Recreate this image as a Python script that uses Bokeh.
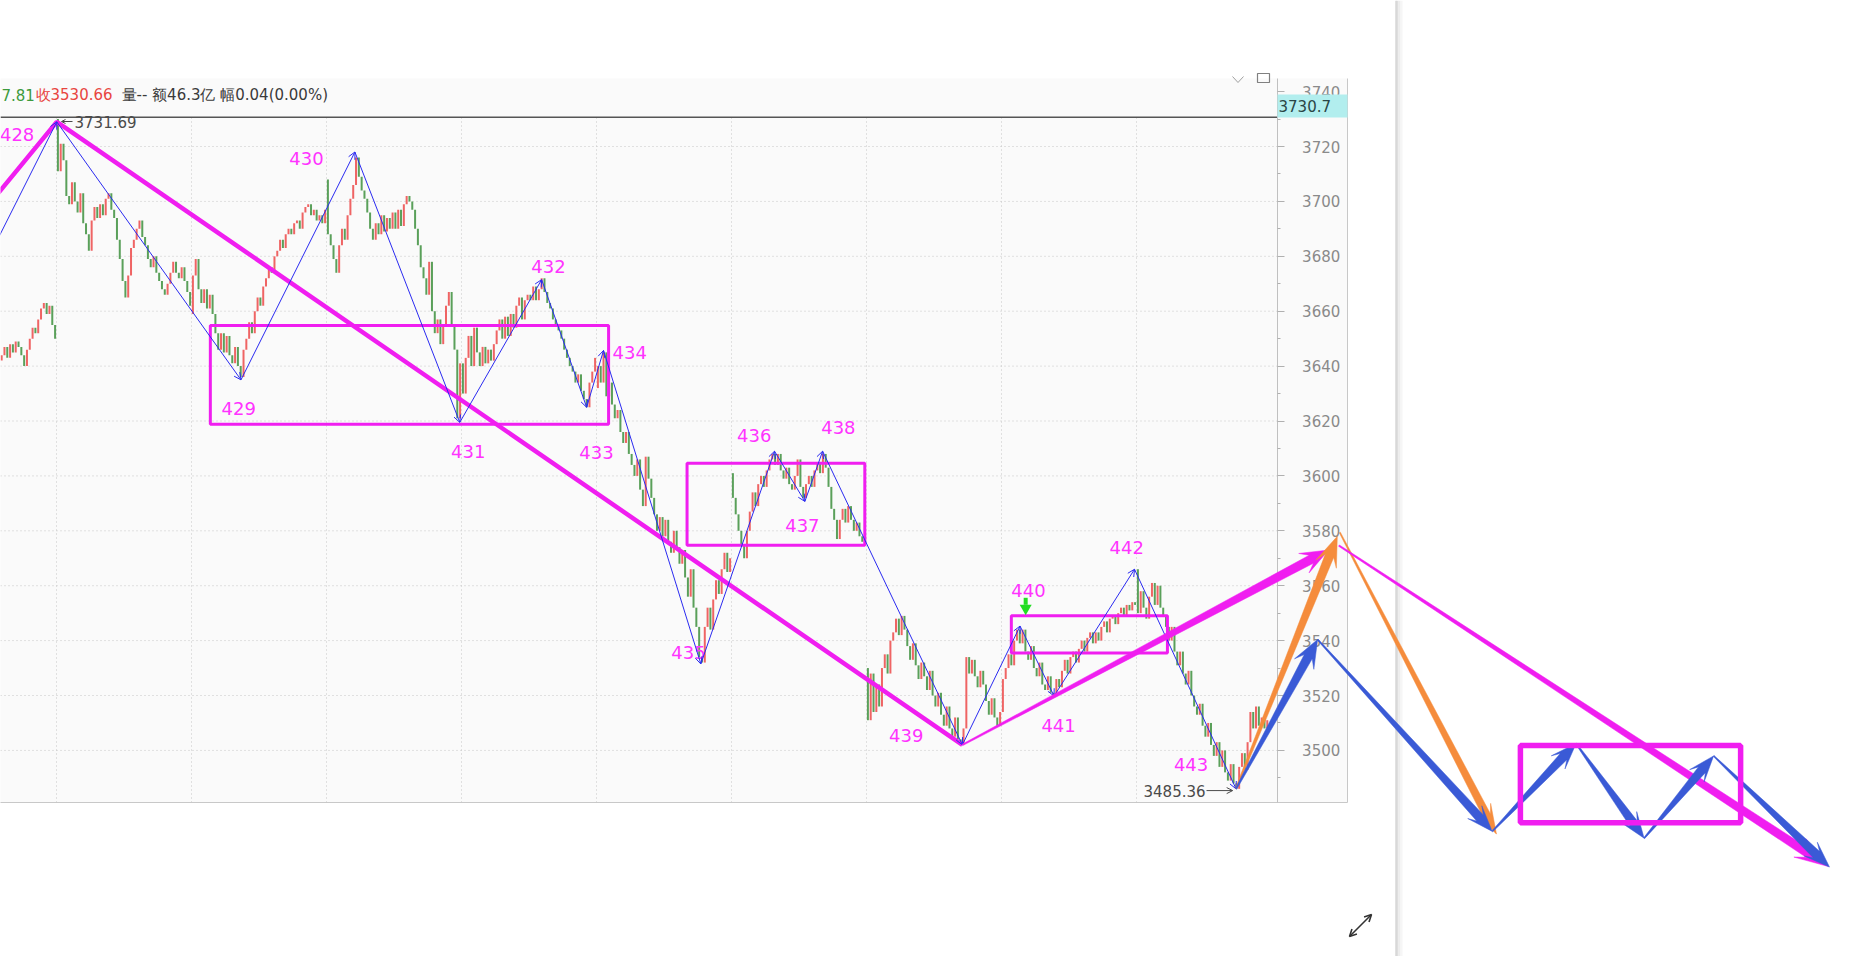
import math
from bokeh.plotting import figure
from bokeh.models import (Range1d, LinearAxis, FixedTicker, ColumnDataSource, Arrow,
                          OpenHead, BoxAnnotation, Label)
from bokeh.core.properties import value
from bokeh.embed import file_html
from bokeh.resources import INLINE

# ------------------------------------------------------------------ data
# bars: one list of closes per trading day (48 bars per day), opens of each day
day_start = [28, 48, 96, 144, 192, 240, 288, 336, 384, 432]
day_open = [3642, 3730, 3659, 3708, 3641, 3632, 3601, 3530, 3514, 3566]
day0 = [3644, 3647, 3643, 3648, 3645, 3649, 3647, 3644, 3640, 3646, 3650, 3654, 3652, 3657,
        3661, 3663, 3659, 3662, 3655, 3650]
day1 = [3711, 3721, 3715, 3702, 3699, 3707, 3700, 3696, 3703, 3692, 3688, 3682, 3693, 3698,
        3694, 3699, 3695, 3701, 3703, 3697, 3694, 3686, 3679, 3671, 3665, 3673, 3683, 3686,
        3690, 3693, 3687, 3684, 3679, 3676, 3680, 3674, 3671, 3668, 3666, 3670, 3674, 3678,
        3674, 3672, 3676, 3671, 3667, 3662]
day2 = [3673, 3679, 3668, 3663, 3668, 3661, 3666, 3659, 3652, 3646, 3652, 3645, 3651, 3644,
        3641, 3647, 3640, 3636, 3646, 3650, 3656, 3652, 3660, 3665, 3662, 3669, 3672, 3676,
        3674, 3680, 3682, 3686, 3683, 3688, 3690, 3688, 3692, 3693, 3690, 3696, 3698, 3699,
        3695, 3697, 3693, 3695, 3692, 3697]
day3 = [3688, 3684, 3679, 3674, 3684, 3690, 3686, 3695, 3701, 3706, 3716, 3709, 3704, 3701,
        3696, 3690, 3686, 3692, 3688, 3695, 3689, 3694, 3690, 3696, 3690, 3697, 3691, 3699,
        3702, 3700, 3697, 3690, 3684, 3676, 3672, 3666, 3678, 3660, 3652, 3657, 3648, 3655,
        3662, 3667, 3655, 3646, 3621, 3641]
day4 = [3630, 3643, 3651, 3640, 3654, 3645, 3640, 3647, 3641, 3646, 3642, 3648, 3653, 3657,
        3650, 3658, 3651, 3659, 3654, 3662, 3665, 3657, 3664, 3666, 3664, 3669, 3664, 3668,
        3672, 3667, 3663, 3661, 3657, 3655, 3653, 3650, 3646, 3643, 3640, 3638, 3634, 3637,
        3631, 3628, 3625, 3634, 3638, 3643]
day5 = [3640, 3634, 3645, 3629, 3634, 3626, 3621, 3624, 3616, 3612, 3616, 3608, 3604, 3600,
        3606, 3595, 3589, 3607, 3599, 3592, 3586, 3580, 3585, 3578, 3584, 3576, 3572, 3580,
        3574, 3568, 3573, 3563, 3556, 3566, 3552, 3545, 3534, 3532, 3545, 3552, 3544, 3555,
        3562, 3557, 3566, 3572, 3565, 3570]
day6 = [3592, 3586, 3580, 3575, 3570, 3580, 3587, 3594, 3589, 3597, 3600, 3596, 3602, 3606,
        3608, 3604, 3608, 3602, 3599, 3603, 3597, 3595, 3600, 3606, 3596, 3592, 3597, 3600,
        3596, 3602, 3605, 3601, 3608, 3603, 3596, 3588, 3584, 3577, 3584, 3588, 3583, 3589,
        3584, 3580, 3583, 3578, 3576, 3578]
day7 = [3511, 3528, 3514, 3524, 3516, 3530, 3535, 3528, 3540, 3543, 3548, 3542, 3549, 3544,
        3538, 3533, 3539, 3531, 3526, 3532, 3527, 3522, 3529, 3520, 3516, 3521, 3513, 3509,
        3516, 3508, 3505, 3512, 3504, 3502, 3508, 3534, 3528, 3533, 3527, 3523, 3529, 3524,
        3518, 3513, 3519, 3512, 3509, 3514]
day8 = [3526, 3530, 3535, 3531, 3540, 3544, 3539, 3544, 3536, 3533, 3538, 3530, 3527, 3532,
        3524, 3522, 3527, 3521, 3520, 3526, 3523, 3529, 3533, 3528, 3534, 3536, 3532, 3537,
        3540, 3536, 3541, 3543, 3539, 3543, 3540, 3545, 3547, 3543, 3548, 3549, 3546, 3550,
        3552, 3549, 3553, 3551, 3554, 3553]
day9 = [3550, 3558, 3552, 3548, 3556, 3561, 3553, 3560, 3552, 3549, 3545, 3540, 3545, 3536,
        3531, 3536, 3528, 3524, 3529, 3520, 3516, 3513, 3517, 3509, 3505, 3510, 3502, 3498,
        3503, 3494, 3500, 3492, 3489, 3495, 3488, 3486, 3494, 3499, 3493, 3503, 3514, 3508,
        3516, 3509, 3512, 3508, 3511]
days = [day0, day1, day2, day3, day4, day5, day6, day7, day8, day9]

# wave zigzag (bar index, price) and wave numbers
zz_i = [26, 47.6, 113.1, 153.6, 190.9, 220.0, 236.0, 242.0, 276.6, 302.8, 313.6, 319.9,
        369.6, 390.1, 402.2, 430.8, 466.9]
zz_v = [3685, 3729, 3635, 3718, 3619.5, 3671.5, 3625, 3645.7, 3531.5, 3609, 3590.7, 3609,
        3502, 3545.3, 3519.8, 3566, 3486]
lbl_text = ["428", "429", "430", "431", "432", "433", "434", "435", "436", "437", "438",
            "439", "440", "441", "442", "443"]
lbl_i = [33.5, 112.3, 136.4, 193.9, 222.4, 239.5, 251.3, 272.2, 295.6, 312.7, 325.5,
         349.6, 393.1, 403.8, 428.0, 450.9]
lbl_v = [3724.4, 3624.6, 3715.6, 3608.9, 3676.3, 3608.5, 3644.8, 3535.8, 3614.7, 3581.9,
         3617.8, 3505.4, 3558.3, 3509.1, 3573.9, 3494.7]

# big trend line and consolidation boxes
mag_i = [26, 47.6, 369.6]
mag_v = [3702, 3729, 3502]
box_left = [102.2, 271.7, 387.0]
box_right = [243.8, 334.9, 442.5]
box_top = [3654.8, 3604.6, 3549.1]
box_bottom = [3618.8, 3574.7, 3535.5]

# projected (hand drawn) arrows
mag_up = [(369.6, 3502.0), (499.8, 3573.0)]
org_up = [(466.9, 3486.0), (502.9, 3578.0)]
blu_up = [(466.9, 3486.0), (495.9, 3540.4)]
org_down = [(503.8, 3579.4), (559.5, 3469.5)]
mag_down = [(503.5, 3574.6), (677.5, 3457.7)]
blu_path_i = [495.9, 558.0, 587.8, 612.0, 636.7, 677.9]
blu_path_v = [3540.4, 3470.5, 3502.5, 3468.0, 3498.0, 3457.5]
proj_box = dict(left=568.0, right=646.3, top=3501.8, bottom=3473.6)

hline_v = 3730.7
peak_i, peak_text = 47.6, "3731.69"
low_i, low_v, low_text = 466.0, 3485.36, "3485.36"
green_mark = (392.1, 3552.5)
header = [("7.81", "#3d9a3d"), ("收3530.66", "#e8453f"), ("量-- 额46.3亿 幅0.04(0.00%)", "#3a3a3a")]
y_major = [3500, 3520, 3540, 3560, 3580, 3600, 3620, 3640, 3660, 3680, 3700, 3720, 3740]
y_minor = [3490, 3510, 3530, 3550, 3570, 3590, 3610, 3630, 3650, 3670, 3690, 3710, 3730]
day_breaks = [47.5, 95.5, 143.5, 191.5, 239.5, 287.5, 335.5, 383.5, 431.5]
axis_at = 481.5

# ------------------------------------------------------------------ layout
W, H = 1861, 956
PXB, PXV = 2.8125, 2.745          # pixels per bar, pixels per index point
X0 = 27.591
X1 = X0 + W / PXB
Y1 = 3773.19
Y0 = Y1 - H / PXV
SX = W / (X1 - X0)
SY = H / (Y1 - Y0)


def to_px(i, v):
    return (i - X0) * SX, (Y1 - v) * SY


def from_px(x, y):
    return X0 + x / SX, Y1 - y / SY


CH_TOP, CH_BOT, CH_RIGHT, SEP = 78, 802, 1347, 1395
v_top_chart = from_px(0, CH_TOP)[1]
v_bot_chart = from_px(0, CH_BOT)[1]
i_chart_right = from_px(CH_RIGHT, 0)[0]

BLUE = "#2a2af0"
MAG = "#f01ef0"
BLUE2 = "#3a5ad6"
ORANGE = "#f58c3c"

p = figure(width=W, height=H, x_range=Range1d(X0, X1), y_range=Range1d(Y0, Y1),
           output_backend="svg", toolbar_location=None, min_border=0,
           x_axis_type=None, y_axis_type=None)
p.outline_line_color = None
p.background_fill_color = "white"
p.border_fill_color = "white"

# chart background and borders
p.quad(left=X0 - 5, right=i_chart_right, top=v_top_chart, bottom=v_bot_chart,
       fill_color="#fafafa", line_color=None)
p.segment(x0=[X0 - 5, i_chart_right], y0=[v_bot_chart, v_bot_chart],
          x1=[i_chart_right, i_chart_right], y1=[v_bot_chart, v_top_chart],
          line_color="#c8c8c8", line_width=1)

# separator with shadow
for (a, b, c) in [(SEP, SEP + 1.2, "#c4c4c4"), (SEP + 1.2, SEP + 3, "#dedede"),
                  (SEP + 3, SEP + 5, "#ececec"), (SEP + 5, SEP + 7, "#f6f6f6")]:
    p.quad(left=from_px(a, 0)[0], right=from_px(b, 0)[0], top=Y1, bottom=Y0,
           fill_color=c, line_color=None)

# grid lines
p.segment(x0=[X0] * 12, x1=[axis_at] * 12, y0=y_major[:12], y1=y_major[:12],
          line_color="#c6c6c6", line_width=1, line_dash="1 3")
p.segment(x0=day_breaks, x1=day_breaks, y0=[v_bot_chart] * len(day_breaks),
          y1=[hline_v] * len(day_breaks), line_color="#c6c6c6", line_width=1, line_dash="1 3")

# header texts
hx, hy = [1, 35, 121], from_px(0, 94)[1]
for (t, c), x in zip(header, hx):
    p.text(x=[from_px(x, 0)[0]], y=[hy], text=[t], text_color=c,
           text_font=value("DejaVu Sans"), text_font_size="15px",
           text_align="left", text_baseline="middle")

# horizontal price line
p.segment(x0=[X0], x1=[axis_at], y0=[hline_v], y1=[hline_v], line_color="#555555", line_width=1.5)

# bars
bx, bo, bc, bcol = [], [], [], []
for s, o, closes in zip(day_start, day_open, days):
    for k, c in enumerate(closes):
        bx.append(s + k)
        bo.append(o)
        bc.append(c)
        bcol.append("#ef6464" if c > o else "#5aa05a")
        o = c
p.segment(x0="x", y0="o", x1="x", y1="c", line_color="col", line_width=2,
          source=ColumnDataSource(dict(x=bx, o=bo, c=bc, col=bcol)))

# trend line & boxes
p.line(mag_i, mag_v, line_color=MAG, line_width=4.5)
p.quad(left=box_left, right=box_right, top=box_top, bottom=box_bottom,
       fill_color=None, line_color=MAG, line_width=3)

# zigzag with open heads
zz_src = ColumnDataSource(dict(x0=zz_i[:-1], y0=zz_v[:-1], x1=zz_i[1:], y1=zz_v[1:]))
p.add_layout(Arrow(source=zz_src, x_start="x0", y_start="y0", x_end="x1", y_end="y1",
                   line_color=BLUE, line_width=1,
                   end=OpenHead(size=7, line_color=BLUE, line_width=1)))

# wave numbers
p.text(x=lbl_i, y=lbl_v, text=lbl_text, text_color="#ff33ff",
       text_font=value("DejaVu Sans"), text_font_size="18px",
       text_align="center", text_baseline="middle")

# peak / low annotations
ty = from_px(0, 121)[1]
p.text(x=[from_px(74, 0)[0]], y=[ty], text=[peak_text], text_color="#4a4a4a",
       text_font=value("DejaVu Sans"), text_font_size="15px", text_align="left", text_baseline="middle")
p.add_layout(Arrow(x_start=from_px(72, 0)[0], y_start=ty, x_end=from_px(61, 0)[0], y_end=ty,
                   line_color="#4a4a4a", line_width=1,
                   end=OpenHead(size=4, line_color="#4a4a4a", line_width=1)))
lx_px, ly_px = to_px(low_i, low_v)
p.text(x=[from_px(lx_px - 28, 0)[0]], y=[low_v], text=[low_text], text_color="#4a4a4a",
       text_font=value("DejaVu Sans"), text_font_size="15px", text_align="right", text_baseline="middle")
p.add_layout(Arrow(x_start=from_px(lx_px - 27, 0)[0], y_start=low_v, x_end=low_i - 0.3, y_end=low_v,
                   line_color="#4a4a4a", line_width=1,
                   end=OpenHead(size=6, line_color="#4a4a4a", line_width=1)))

# green signal arrow
gx, gy = to_px(*green_mark)
p.rect(x=[from_px(gx, 0)[0]], y=[from_px(0, gy - 5)[1]], width=4, height=7,
       width_units="screen", height_units="screen", fill_color="#22dd22", line_color=None)
p.scatter(x=[green_mark[0]], y=[from_px(0, gy + 2)[1]], marker="inverted_triangle", size=12,
          fill_color="#22dd22", line_color=None)


# tapered arrows
def taper(a, b, w0, w1, hw, hl):
    x0, y0 = to_px(*a)
    x1, y1 = to_px(*b)
    dx, dy = x1 - x0, y1 - y0
    L = math.hypot(dx, dy)
    ux, uy = dx / L, dy / L
    nx, ny = -uy, ux

    def pt(d, off):
        return from_px(x0 + ux * d + nx * off, y0 + uy * d + ny * off)

    neck, base = L - 0.7 * hl, L - hl
    pts = [pt(0, w0 / 2), pt(neck, w1 / 2), pt(base, hw / 2), pt(L, 0),
           pt(base, -hw / 2), pt(neck, -w1 / 2), pt(0, -w0 / 2)]
    return [q[0] for q in pts], [q[1] for q in pts]


shapes = []
shapes.append((taper(*mag_up, 1.5, 9, 22, 28), MAG))
shapes.append((taper(*org_down, 1.2, 8, 18, 30), ORANGE))
shapes.append((taper(*mag_down, 1.5, 9, 22, 34), MAG))
for k in range(len(blu_path_i) - 1):
    shapes.append((taper((blu_path_i[k], blu_path_v[k]), (blu_path_i[k + 1], blu_path_v[k + 1]),
                         1.2, 9, 19, 26), BLUE2))
shapes.append((taper(*org_up, 1.5, 9, 22, 30), ORANGE))
shapes.append((taper(*blu_up, 1.5, 9, 22, 28), BLUE2))
p.patches(xs=[s[0][0] for s in shapes], ys=[s[0][1] for s in shapes],
          fill_color=[s[1] for s in shapes], line_color=[s[1] for s in shapes],
          line_width=0.5, level="overlay")
p.quad(left=[proj_box["left"]], right=[proj_box["right"]], top=[proj_box["top"]],
       bottom=[proj_box["bottom"]], fill_color=None, line_color=MAG, line_width=5.5, level="overlay")

# y axis drawn at the chart's right edge
yaxis = LinearAxis(fixed_location=axis_at, bounds=(v_bot_chart, v_top_chart),
                   ticker=FixedTicker(ticks=y_major, minor_ticks=y_minor))
yaxis.axis_line_color = "#c0c0c0"
yaxis.major_tick_line_color = "#b0b0b0"
yaxis.minor_tick_line_color = "#b0b0b0"
yaxis.major_tick_out = 7
yaxis.major_tick_in = 0
yaxis.minor_tick_out = 3
yaxis.minor_tick_in = 0
yaxis.major_label_standoff = 18
yaxis.major_label_text_font = "DejaVu Sans"
yaxis.major_label_text_font_size = "15px"
yaxis.major_label_text_color = "#8a8a8a"
p.add_layout(yaxis, "right")

# current price tag
bl, _ = from_px(1277, 0)
br, _ = from_px(CH_RIGHT, 0)
p.add_layout(BoxAnnotation(left=bl, right=br, top=from_px(0, 94)[1], bottom=from_px(0, 117)[1],
                           fill_color="#b2eeee", fill_alpha=1, line_color=None, level="overlay"))
p.add_layout(Label(x=from_px(1278, 0)[0], y=from_px(0, 105.5)[1], text="3730.7",
                   text_font="DejaVu Sans", text_font_size="15px", text_color="#2a4646",
                   text_baseline="middle", level="overlay"))

# small window icons
cx = [from_px(x, 0)[0] for x in (1232, 1237.5, 1243)]
cy = [from_px(0, y)[1] for y in (76, 82, 76)]
p.line(cx, cy, line_color="#a0a0a0", line_width=1)
p.quad(left=[from_px(1257, 0)[0]], right=[from_px(1269, 0)[0]], top=[from_px(0, 73)[1]],
       bottom=[from_px(0, 82)[1]], fill_color=None, line_color="#808080", line_width=1.2)
p.add_layout(Arrow(x_start=from_px(1349, 0)[0], y_start=from_px(0, 936)[1],
                   x_end=from_px(1371, 0)[0], y_end=from_px(0, 914)[1],
                   line_color="#333333", line_width=1.6,
                   start=OpenHead(size=7, line_color="#333333", line_width=1.6),
                   end=OpenHead(size=7, line_color="#333333", line_width=1.6)))

open("out.html", "w").write(file_html(p, INLINE))
